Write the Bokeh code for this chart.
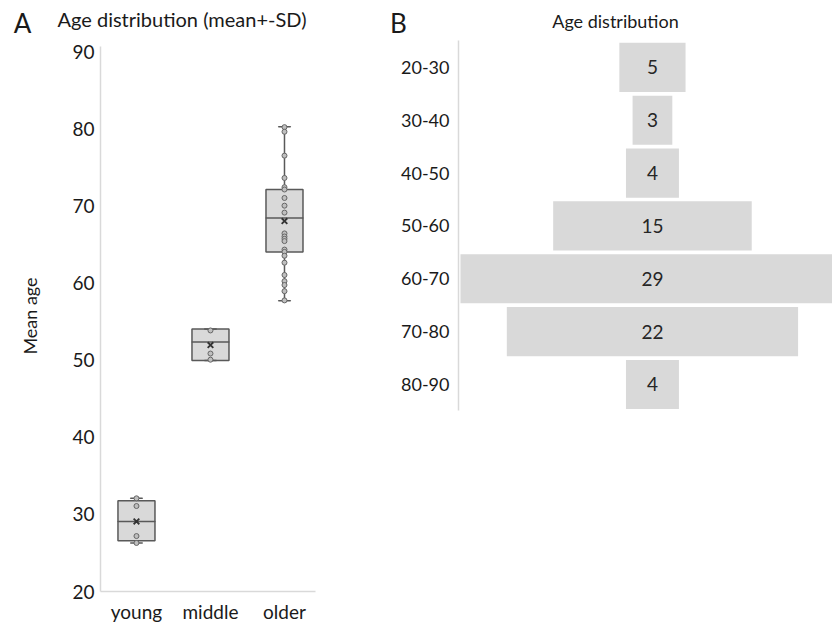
from bokeh.plotting import figure
from bokeh.layouts import row
from bokeh.models import Label, ColumnDataSource, Range1d, FixedTicker
from bokeh.core.properties import value
from bokeh.embed import file_html
from bokeh.resources import INLINE

FONT = "Lato"
TXT = "#1a1a1a"
AXIS = "#d9d9d9"
BOXFILL = "#d9d9d9"
BOXLINE = "#595959"

# ---------------- Panel A data ----------------
groups = ["young", "middle", "older"]
lower = [26.3, 50.0, 57.75]
q1 = [26.6, 50.0, 64.1]
median = [29.1, 52.4, 68.5]
q3 = [31.8, 54.1, 72.2]
upper = [32.1, 54.1, 80.35]
mean = [29.1, 52.0, 68.1]

young_pts = [26.3, 27.2, 31.1, 32.1]
middle_pts = [50.1, 50.9, 53.9]
older_pts = [80.3, 79.7, 76.6, 73.7, 72.5, 72.2, 71.1, 70.1, 69.2, 66.5, 66.1,
             65.8, 65.5, 64.4, 64.1, 63.6, 62.7, 61.1, 60.3, 59.8, 59.0, 57.8]
y_ticks = [20, 30, 40, 50, 60, 70, 80, 90]

# ---------------- Panel B data ----------------
age_bins = ["20-30", "30-40", "40-50", "50-60", "60-70", "70-80", "80-90"]
counts = [5, 3, 4, 15, 29, 22, 4]

H = 625
TOP, BOT = 40, 31
SHIFT = 11  # side-panel label vertical correction (px)

# ---------------- Panel A ----------------
xs = list(range(len(groups)))
pA = figure(width=370, height=H, x_range=Range1d(-0.486, 2.419), y_range=Range1d(20, 91.55),
            min_border_left=100, min_border_right=55, min_border_top=TOP, min_border_bottom=BOT,
            output_backend="svg", toolbar_location=None)
pA.outline_line_color = None
pA.grid.visible = False

box_src = ColumnDataSource(dict(x=xs, lower=lower, q1=q1, median=median, q3=q3, upper=upper, mean=mean))
bw = 0.5
cw = 0.16
pA.segment(x0="x", y0="lower", x1="x", y1="q1", source=box_src, line_color=BOXLINE, line_width=1.5)
pA.segment(x0="x", y0="q3", x1="x", y1="upper", source=box_src, line_color=BOXLINE, line_width=1.5)
pA.vbar(x="x", width=bw, bottom="q1", top="q3", source=box_src, fill_color=BOXFILL,
        line_color=BOXLINE, line_width=1.5)
pA.rect(x="x", y="median", width=bw, height=0.001, source=box_src, line_color=BOXLINE, line_width=1.5)
pA.rect(x="x", y="lower", width=cw, height=0.001, source=box_src, line_color=BOXLINE, line_width=1.5)
pA.rect(x="x", y="upper", width=cw, height=0.001, source=box_src, line_color=BOXLINE, line_width=1.5)

px, py = [], []
for i, pts in enumerate([young_pts, middle_pts, older_pts]):
    px += [i] * len(pts)
    py += pts
pA.scatter(px, py, marker="circle", size=5, fill_color="#bfbfbf", line_color="#666666", line_width=1)
pA.scatter(x="x", y="mean", source=box_src, marker="x", size=8, line_color="#333333", line_width=1.8)

pA.xaxis.ticker = FixedTicker(ticks=xs)
pA.xaxis.major_label_overrides = {i: g for i, g in enumerate(groups)}
pA.yaxis.ticker = FixedTicker(ticks=y_ticks)
pA.yaxis.bounds = (20, 90.8)
for ax in (pA.xaxis[0], pA.yaxis[0]):
    ax.axis_line_color = AXIS
    ax.axis_line_width = 1.5
    ax.major_tick_line_color = None
    ax.minor_tick_line_color = None
    ax.major_label_text_font = FONT
    ax.major_label_text_font_size = "19px"
    ax.major_label_text_color = TXT
pA.xaxis.major_label_standoff = 2
pA.yaxis.major_label_standoff = 0
pA.yaxis.axis_label = "Mean age"
pA.yaxis.axis_label_text_font = FONT
pA.yaxis.axis_label_text_font_style = "normal"
pA.yaxis.axis_label_text_font_size = "18px"
pA.yaxis.axis_label_text_color = TXT
pA.yaxis.axis_label_standoff = 28

def ax_x(page_x):
    return -0.486 + (page_x - 100) / 74.0

def ax_y(page_y):
    return 20 + (594 - page_y + SHIFT) / 7.743

pA.add_layout(Label(x=ax_x(22), y=ax_y(33), text="A", text_font=FONT, text_font_size="26px",
                    text_color=TXT, text_align="center", text_baseline="alphabetic"), "right")
pA.add_layout(Label(x=ax_x(57), y=ax_y(29.5), text="Age distribution (mean+-SD)", text_font=FONT,
                    text_font_size="20px", text_color=TXT, text_align="left", text_baseline="alphabetic"), "above")

# ---------------- Panel B ----------------
ys = [-i for i in range(len(age_bins))]
pB = figure(width=462, height=H, x_range=Range1d(-14.65, 13.6), y_range=Range1d(-9.917, 0.508),
            min_border_left=88, min_border_right=0, min_border_top=TOP, min_border_bottom=BOT,
            output_backend="svg", toolbar_location=None)
pB.outline_line_color = None
pB.grid.visible = False
bar_src = ColumnDataSource(dict(y=ys, left=[-c / 2 for c in counts], right=[c / 2 for c in counts],
                                x=[0] * len(counts), label=[str(c) for c in counts]))
pB.hbar(y="y", left="left", right="right", height=0.93, source=bar_src, fill_color=BOXFILL, line_color=None)
pB.text(x="x", y="y", text="label", source=bar_src, text_font=value(FONT), text_font_size="19px",
        text_color="#262626", text_align="center", text_baseline="middle")
pB.xaxis.visible = False
yb = pB.yaxis[0]
yb.ticker = FixedTicker(ticks=ys)
yb.major_label_overrides = {y: b for y, b in zip(ys, age_bins)}
yb.bounds = (-6.5, 0.5)
yb.axis_line_color = AXIS
yb.axis_line_width = 1.5
yb.major_tick_line_color = None
yb.minor_tick_line_color = None
yb.major_label_text_font = FONT
yb.major_label_text_font_size = "18px"
yb.major_label_text_color = TXT
yb.major_label_standoff = 3

def bx(page_x):
    return (page_x - 652) / 13.24

def by(page_y):
    return 0.508 - (page_y - SHIFT - 40) / 53.14

pB.add_layout(Label(x=bx(398), y=by(33), text="B", text_font=FONT, text_font_size="26px",
                    text_color=TXT, text_align="center", text_baseline="alphabetic"), "left")
pB.add_layout(Label(x=bx(615), y=by(31), text="Age distribution", text_font=FONT,
                    text_font_size="18px", text_color=TXT, text_align="center", text_baseline="alphabetic"), "above")

layout = row(pA, pB)
open("out.html", "w").write(file_html(layout, INLINE))
